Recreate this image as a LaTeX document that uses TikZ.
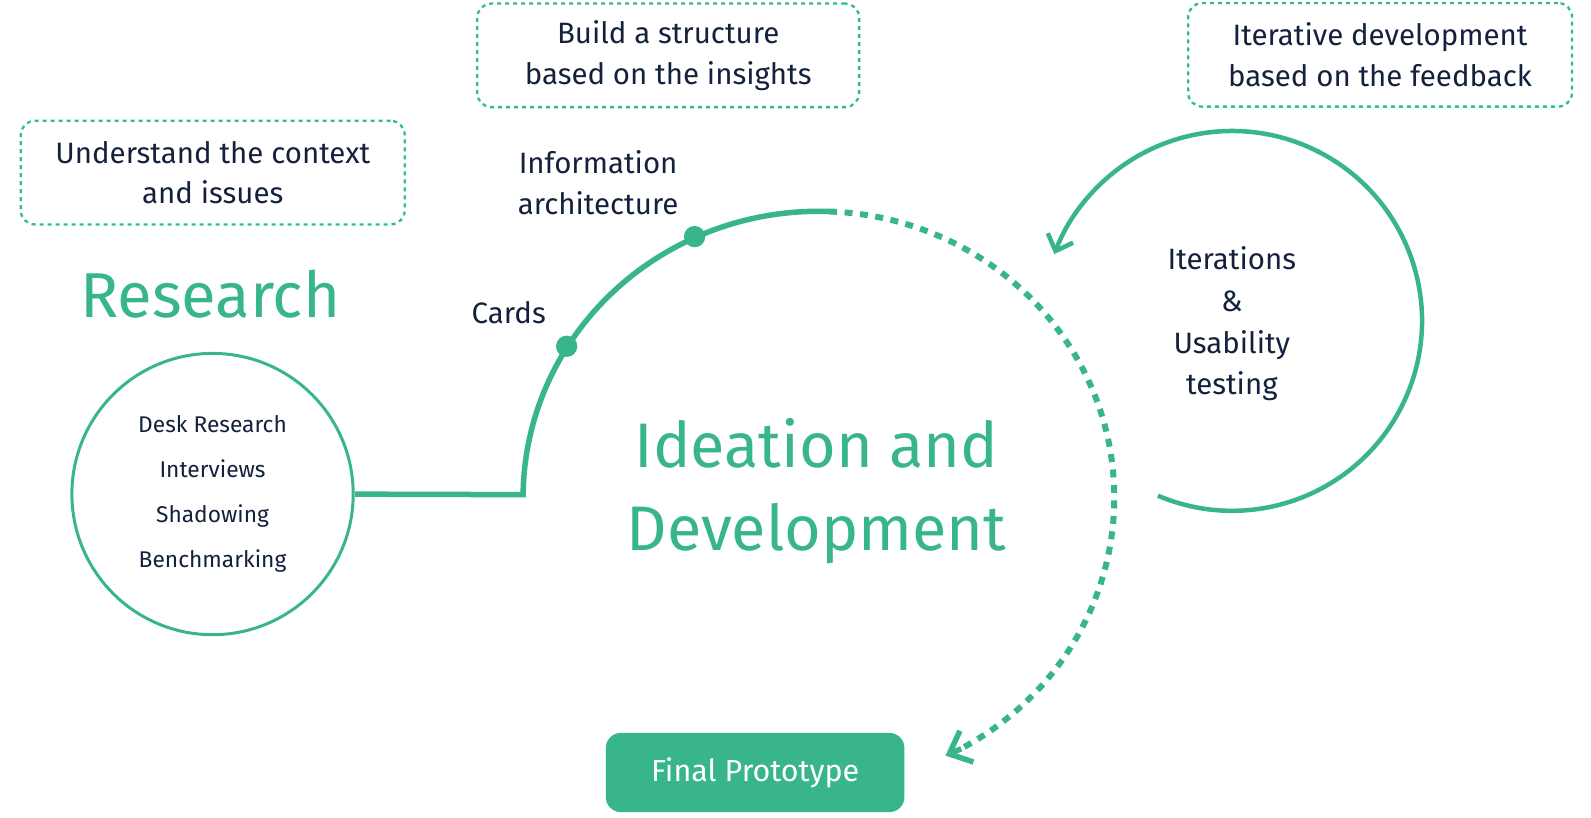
\documentclass[tikz,border=0pt]{standalone}
\usepackage{fontspec}
\setmainfont{Fira Sans}
\usetikzlibrary{arrows.meta}
\definecolor{grn}{HTML}{38B68A}
\definecolor{dgrn}{HTML}{2EBF86}
\definecolor{navy}{HTML}{14213D}
\newcommand{\fsz}[2]{\fontsize{#1}{#2}\selectfont}
\begin{document}
\begin{tikzpicture}[x=1pt,y=-1pt,
  note/.style={draw=dgrn, line width=2.3pt, dash pattern=on 4pt off 4pt, rounded corners=14pt,
     minimum width=378pt, minimum height=102pt, align=center, text=navy, font=\fsz{29}{40}, inner sep=0pt},
  lbl/.style={text=navy, align=center, font=\fsz{29}{41}, inner sep=0pt},
  big/.style={text=grn, align=center, inner sep=0pt},
  dotn/.style={circle, fill=grn, minimum size=21pt, inner sep=0pt},
  solidline/.style={draw=grn, line width=5.5pt},
  dotline/.style={draw=grn, line width=6pt, dash pattern=on 8pt off 7.5pt},
  chev/.style={-{Straight Barb[length=19pt,width=34pt,line width=5.5pt]}}
]
\begin{scope}[scale=1.0155, transform shape]
% dashed boxes
\node[note] (b1) at (209.5,170) {Understand the context\\and issues};
\node[note, minimum width=376pt] (b2) at (658,54.5) {Build a structure\\based on the insights};
\node[note] (b3) at (1359,54) {Iterative development\\based on the feedback};
% titles
\node[big, font=\fsz{62.5}{82}] (research) at (207,290) {Research};
\node[big, font=\fsz{62}{82}, align=center] (ideation) at (804,484) {Ideation and\\Development};
% research circle
\node[circle, draw=grn, line width=3pt, minimum size=277pt, inner sep=0pt, text=navy, align=center, font=\fsz{22.4}{44.5}] (rc) at (209.3,486.5)
  {Desk Research\\Interviews\\Shadowing\\Benchmarking};
% connector and arc
\coordinate (c0) at (515,487);
\draw[solidline] (rc.east) -- (c0) arc[start angle=179.4, end angle=88, x radius=291pt, y radius=282pt] coordinate (ctop);
\draw[dotline] (ctop) arc[start angle=88, end angle=-61, x radius=291pt, y radius=282pt] coordinate (cend);
\draw[grn, line width=5.5pt, chev] ([shift={(-156.5:1pt)}]cend) -- ++(-156.5:17pt) coordinate (ctip);
% dots
\node[dotn] (cards) at (558,341) {};
\node[dotn] (info) at (684,233) {};
\node[lbl] (cardst) at (501,308) {Cards};
\node[lbl] (infot) at (589,180) {Information\\architecture};
% iteration circle
\coordinate (i0) at (1140,488);
\draw[draw=grn, line width=4.5pt, -{Straight Barb[length=14pt,width=27pt,line width=4.5pt]}] (i0) arc[start angle=247, end angle=519.4, radius=187pt];
\node[lbl] (iter) at (1213,319) {Iterations\\\&\\Usability\\testing};
% final prototype
\node[fill=grn, rounded corners=15pt, minimum width=294pt, minimum height=78pt, text=white, font=\fsz{30}{40}, inner sep=0pt] (fp) at (743.6,760.7) {\raisebox{-2pt}{Final Prototype}};
\end{scope}
\pgfresetboundingbox
\useasboundingbox (0,0) rectangle (1591,817);
\end{tikzpicture}
\end{document}
